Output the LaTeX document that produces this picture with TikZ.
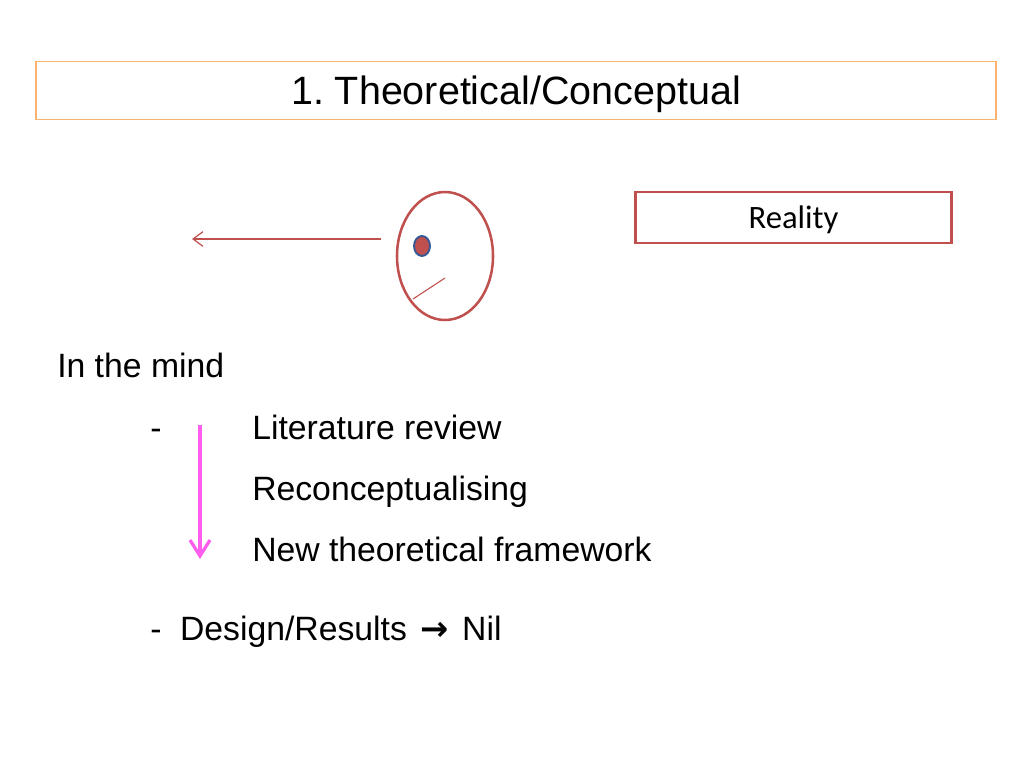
\documentclass[tikz,border=0pt]{standalone}
\usepackage{fontspec}
\setmainfont{Liberation Sans}
\newfontfamily\calibrifont{Carlito}
\newfontfamily\arrowfont{DejaVu Sans}
\usepackage{tikz}
\usetikzlibrary{arrows.meta,calc,positioning,shapes}
\definecolor{slidered}{RGB}{192,80,77}
\definecolor{slideorange}{RGB}{248,180,110}
\definecolor{pupilblue}{RGB}{52,88,150}
\definecolor{flowpink}{RGB}{255,92,240}
\frenchspacing

\begin{document}
\begin{tikzpicture}[x=0.75pt, y=-0.75pt,
					titlebox/.style={draw=slideorange, line width=0.9pt, minimum width=720pt, minimum height=44pt, inner sep=0pt,
						text height=21.7pt, text depth=0pt, font=\fontsize{29.6pt}{34pt}\selectfont},
					realitybox/.style={draw=slidered, line width=1.8pt, minimum width=237pt, minimum height=38pt, inner sep=0pt,
						text height=16.2pt, text depth=0pt, font=\calibrifont\fontsize{24.5pt}{28pt}\selectfont},
					bodytext/.style={anchor=base west, inner sep=0pt, font=\fontsize{25.3pt}{30pt}\selectfont},
					eyeline/.style={draw=slidered, line width=1.9pt}
				]
				\useasboundingbox (0,0) rectangle (1024,768);
				% title
				\node[titlebox] (title) at (516,90.5) {1. Theoretical/Conceptual};
				\node[realitybox] (reality) at (793.5,217.5) {Reality};
				
				% eye and look
				\node[ellipse, eyeline, minimum width=72pt, minimum height=96pt, inner sep=0pt] (eye) at (445,256) {};
				\node[ellipse, fill=slidered, draw=pupilblue, line width=1.4pt, minimum width=12pt, minimum height=15pt, inner sep=0pt] (pupil) at (422,246) {};
				\coordinate (lashA) at (413,299);
				\coordinate (lashB) at (445,278);
				\coordinate (look) at (381,239);
				\coordinate (far) at (192,239);
				\draw[slidered, line width=0.8pt] (lashA) -- (lashB);
				\draw[slidered, line width=0.9pt, -{Straight Barb[length=7.5pt, width=11pt, line width=0.9pt]}] (look) -- (far);
				
				% text
				\node[bodytext] (mind) at (57,377) {In the mind};
				\node[bodytext] (dashA) at (150,439) {-};
				\node[bodytext] (lit) at (252,439) {Literature review};
				\node[bodytext] (recon) at (252,500) {Reconceptualising};
				\node[bodytext] (frame) at (252,561) {New theoretical framework};
				\node[bodytext] (design) at (150,640) {-\hspace{0.55em}Design/Results\hspace{0.4em}{\arrowfont\bfseries →}\hspace{0.4em}Nil};
				
				\coordinate (flowtop) at (200,425);
				\coordinate (flowend) at (200,559);
				\draw[flowpink, line width=2.4pt, -{Straight Barb[length=12pt, width=15pt, line width=2.4pt]}] (flowtop) -- (flowend);
			\end{tikzpicture}
\end{document}
